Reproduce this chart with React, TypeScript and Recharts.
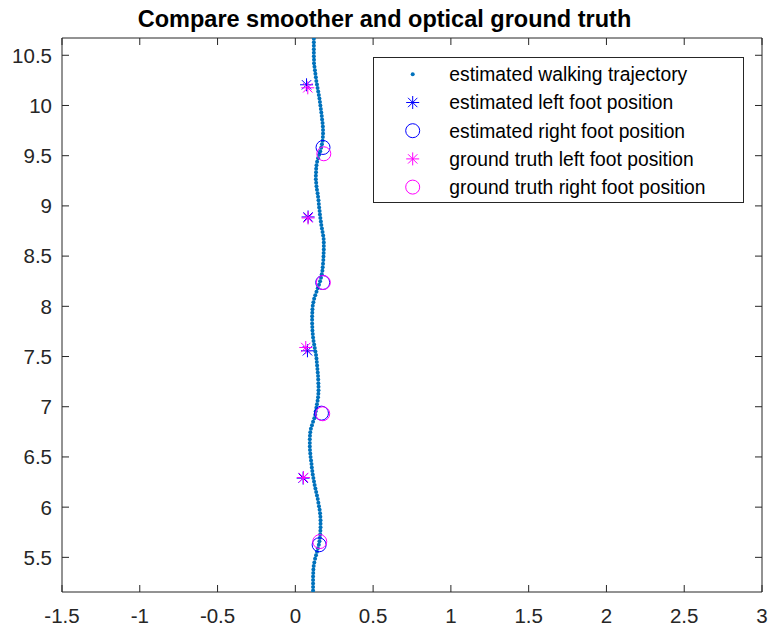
import React from 'react';
import { ScatterChart, Scatter, XAxis, YAxis, Legend } from 'recharts';

// ---- data ----
const TRAJ_Y = [10.700, 10.665, 10.630, 10.595, 10.560, 10.525, 10.490, 10.455, 10.420, 10.385, 10.350, 10.315, 10.280, 10.245, 10.210, 10.175, 10.140, 10.105, 10.070, 10.035, 10.000, 9.965, 9.930, 9.895, 9.860, 9.825, 9.790, 9.755, 9.720, 9.685, 9.650, 9.615, 9.580, 9.545, 9.510, 9.475, 9.440, 9.405, 9.370, 9.335, 9.300, 9.265, 9.230, 9.195, 9.160, 9.125, 9.090, 9.055, 9.020, 8.985, 8.950, 8.915, 8.880, 8.845, 8.810, 8.775, 8.740, 8.705, 8.670, 8.635, 8.600, 8.565, 8.530, 8.495, 8.460, 8.425, 8.390, 8.355, 8.320, 8.285, 8.250, 8.215, 8.180, 8.145, 8.110, 8.075, 8.040, 8.005, 7.970, 7.935, 7.900, 7.865, 7.830, 7.795, 7.760, 7.725, 7.690, 7.655, 7.620, 7.585, 7.550, 7.515, 7.480, 7.445, 7.410, 7.375, 7.340, 7.305, 7.270, 7.235, 7.200, 7.165, 7.130, 7.095, 7.060, 7.025, 6.990, 6.955, 6.920, 6.885, 6.850, 6.815, 6.780, 6.745, 6.710, 6.675, 6.640, 6.605, 6.570, 6.535, 6.500, 6.465, 6.430, 6.395, 6.360, 6.325, 6.290, 6.255, 6.220, 6.185, 6.150, 6.115, 6.080, 6.045, 6.010, 5.975, 5.940, 5.905, 5.870, 5.835, 5.800, 5.765, 5.730, 5.695, 5.660, 5.625, 5.590, 5.555, 5.520, 5.485, 5.450, 5.415, 5.380, 5.345, 5.310, 5.275, 5.240, 5.205, 5.170, 5.135];

const TRAJ_X = [0.119, 0.119, 0.119, 0.119, 0.119, 0.119, 0.119, 0.120, 0.120, 0.123, 0.126, 0.129, 0.132, 0.135, 0.139, 0.143, 0.147, 0.151, 0.155, 0.158, 0.161, 0.164, 0.167, 0.170, 0.172, 0.175, 0.177, 0.178, 0.178, 0.177, 0.175, 0.171, 0.166, 0.160, 0.153, 0.146, 0.140, 0.136, 0.134, 0.133, 0.132, 0.132, 0.134, 0.136, 0.139, 0.143, 0.146, 0.149, 0.151, 0.153, 0.156, 0.158, 0.161, 0.164, 0.167, 0.171, 0.175, 0.179, 0.182, 0.183, 0.183, 0.183, 0.182, 0.181, 0.180, 0.178, 0.176, 0.174, 0.170, 0.165, 0.159, 0.152, 0.144, 0.136, 0.128, 0.121, 0.116, 0.112, 0.110, 0.109, 0.108, 0.108, 0.108, 0.109, 0.110, 0.112, 0.114, 0.117, 0.121, 0.125, 0.129, 0.133, 0.136, 0.138, 0.140, 0.142, 0.144, 0.146, 0.147, 0.148, 0.149, 0.149, 0.148, 0.146, 0.143, 0.139, 0.135, 0.131, 0.128, 0.122, 0.114, 0.107, 0.100, 0.096, 0.094, 0.093, 0.093, 0.093, 0.094, 0.096, 0.098, 0.101, 0.104, 0.106, 0.109, 0.112, 0.116, 0.120, 0.124, 0.129, 0.134, 0.139, 0.144, 0.148, 0.152, 0.156, 0.159, 0.161, 0.162, 0.162, 0.162, 0.161, 0.160, 0.158, 0.155, 0.151, 0.145, 0.139, 0.133, 0.127, 0.122, 0.118, 0.116, 0.115, 0.114, 0.114, 0.114, 0.114, 0.114, 0.114];

const EST_LEFT_X = [0.072, 0.082, 0.078, 0.050];
const EST_LEFT_Y = [10.206, 8.890, 7.557, 6.289];
const EST_RIGHT_X = [0.178, 0.176, 0.168, 0.153];
const EST_RIGHT_Y = [9.582, 8.237, 6.936, 5.625];
const GT_LEFT_X = [0.080, 0.082, 0.067, 0.052];
const GT_LEFT_Y = [10.176, 8.880, 7.590, 6.295];
const GT_RIGHT_X = [0.183, 0.180, 0.176, 0.157];
const GT_RIGHT_Y = [9.519, 8.237, 6.930, 5.657];

const X_TICKS = [-1.5, -1, -0.5, 0, 0.5, 1, 1.5, 2, 2.5, 3];
const Y_TICKS = [5.5, 6, 6.5, 7, 7.5, 8, 8.5, 9, 9.5, 10, 10.5];
const X_DOMAIN = [-1.5, 3];
const Y_DOMAIN = [5.155, 10.672];

const TITLE = 'Compare smoother and optical ground truth';
const LEGEND_LABELS = [
  'estimated walking trajectory',
  'estimated left foot position',
  'estimated right foot position',
  'ground truth left foot position',
  'ground truth right foot position',
];

// ---- styles ----
const FONT = '"Liberation Sans", Arial, Helvetica, sans-serif';
const AXIS = '#262626';
const TRAJ_COLOR = '#0072BD';
const BLUE = '#0000FF';
const MAGENTA = '#FF00FF';

const zip = (xs: number[], ys: number[]) => xs.map((x, i) => ({ x, y: ys[i] }));
const trajData = zip(TRAJ_X, TRAJ_Y);
const estLeft = zip(EST_LEFT_X, EST_LEFT_Y);
const estRight = zip(EST_RIGHT_X, EST_RIGHT_Y);
const gtLeft = zip(GT_LEFT_X, GT_LEFT_Y);
const gtRight = zip(GT_RIGHT_X, GT_RIGHT_Y);

const Star = ({ cx, cy, r, color }: any) => {
  const d = r * 0.72;
  return (
    <g stroke={color} strokeWidth={1} fill="none">
      <line x1={cx - r} y1={cy} x2={cx + r} y2={cy} />
      <line x1={cx} y1={cy - r} x2={cx} y2={cy + r} />
      <line x1={cx - d} y1={cy - d} x2={cx + d} y2={cy + d} />
      <line x1={cx - d} y1={cy + d} x2={cx + d} y2={cy - d} />
    </g>
  );
};

const Ring = ({ cx, cy, r, color }: any) => (
  <circle cx={cx} cy={cy} r={r} fill="none" stroke={color} strokeWidth={1} />
);

const trajShape = (p: any) => <circle cx={p.cx} cy={p.cy} r={2} fill={TRAJ_COLOR} />;
const starShape = (color: string) => (p: any) => <Star cx={p.cx} cy={p.cy} r={6.5} color={color} />;
const ringShape = (color: string) => (p: any) => <Ring cx={p.cx} cy={p.cy} r={7} color={color} />;
const hiddenShape = () => <g />;

const BottomTick = (p: any) => (
  <g>
    <line x1={p.x} y1={p.y} x2={p.x} y2={p.y - 7} stroke={AXIS} strokeWidth={1} />
    <text x={p.x} y={p.y + 31} textAnchor="middle" fontSize={20.5} fontFamily={FONT} fill={AXIS}>
      {String(p.payload.value)}
    </text>
  </g>
);
const LeftTick = (p: any) => (
  <g>
    <line x1={p.x} y1={p.y} x2={p.x + 7} y2={p.y} stroke={AXIS} strokeWidth={1} />
    <text x={p.x - 10} y={p.y} dy="0.36em" textAnchor="end" fontSize={20.5} fontFamily={FONT} fill={AXIS}>
      {String(p.payload.value)}
    </text>
  </g>
);
const TopTick = (p: any) => (
  <line x1={p.x} y1={p.y} x2={p.x} y2={p.y + 7} stroke={AXIS} strokeWidth={1} />
);
const RightTick = (p: any) => (
  <line x1={p.x} y1={p.y} x2={p.x - 7} y2={p.y} stroke={AXIS} strokeWidth={1} />
);

const LegendBox = () => {
  const w = 371;
  const h = 146;
  const mx = 39.7;
  const tx = 76.3;
  const rows = [17.3, 45.5, 73.7, 101.9, 130.1];
  const icons = [
    (cy: number) => <circle cx={mx} cy={cy} r={2} fill={TRAJ_COLOR} />,
    (cy: number) => <Star cx={mx} cy={cy} r={6.5} color={BLUE} />,
    (cy: number) => <Ring cx={mx} cy={cy} r={7} color={BLUE} />,
    (cy: number) => <Star cx={mx} cy={cy} r={6.5} color={MAGENTA} />,
    (cy: number) => <Ring cx={mx} cy={cy} r={7} color={MAGENTA} />,
  ];
  return (
    <svg width={w} height={h} style={{ display: 'block' }}>
      <rect x={0.5} y={0.5} width={w - 1} height={h - 1} fill="#fff" stroke={AXIS} strokeWidth={1} />
      {LEGEND_LABELS.map((label, i) => (
        <g key={label}>
          {icons[i](rows[i])}
          <text x={tx} y={rows[i]} dy="0.36em" fontSize={19.3} fontFamily={FONT} fill="#000">
            {label}
          </text>
        </g>
      ))}
    </svg>
  );
};

export default function App() {
  return (
    <div style={{ position: 'absolute', left: 0, top: 0, width: 768, height: 631, overflow: 'hidden' }}>
      <div
        style={{
          position: 'absolute',
          left: 0,
          top: 7,
          width: 769,
          textAlign: 'center',
          fontFamily: FONT,
          fontWeight: 'bold',
          fontSize: 23.5,
          lineHeight: '24px',
          color: '#000',
          whiteSpace: 'nowrap',
          zIndex: 2,
        }}
      >
        {TITLE}
      </div>
      <ScatterChart width={768} height={631} margin={{ top: 37, right: 5, bottom: 0, left: 8 }}>
        <XAxis
          xAxisId={0}
          type="number"
          dataKey="x"
          orientation="bottom"
          domain={X_DOMAIN}
          ticks={X_TICKS}
          allowDataOverflow
          interval={0}
          height={39}
          tickSize={0}
          tickMargin={0}
          tickLine={false}
          tick={BottomTick}
          axisLine={{ stroke: AXIS, strokeWidth: 1 }}
        />
        <XAxis
          xAxisId="top"
          type="number"
          dataKey="x"
          orientation="top"
          domain={X_DOMAIN}
          ticks={X_TICKS}
          allowDataOverflow
          interval={0}
          height={1}
          tickSize={0}
          tickMargin={0}
          tickLine={false}
          tick={TopTick}
          axisLine={{ stroke: AXIS, strokeWidth: 1 }}
        />
        <YAxis
          yAxisId={0}
          type="number"
          dataKey="y"
          orientation="left"
          domain={Y_DOMAIN}
          ticks={Y_TICKS}
          allowDataOverflow
          interval={0}
          width={54}
          tickSize={0}
          tickMargin={0}
          tickLine={false}
          tick={LeftTick}
          axisLine={{ stroke: AXIS, strokeWidth: 1 }}
        />
        <YAxis
          yAxisId="right"
          type="number"
          dataKey="y"
          orientation="right"
          domain={Y_DOMAIN}
          ticks={Y_TICKS}
          allowDataOverflow
          interval={0}
          width={1}
          tickSize={0}
          tickMargin={0}
          tickLine={false}
          tick={RightTick}
          axisLine={{ stroke: AXIS, strokeWidth: 1 }}
        />
        <Legend
          layout="vertical"
          align="center"
          verticalAlign="middle"
          content={() => <LegendBox />}
          wrapperStyle={{ position: 'absolute', left: 373, top: 57, width: 371, height: 146 }}
        />
        <Scatter
          name="frame"
          data={trajData}
          xAxisId="top"
          yAxisId="right"
          shape={hiddenShape}
          legendType="none"
          isAnimationActive={false}
        />
        <Scatter name="estimated walking trajectory" data={trajData} shape={trajShape} isAnimationActive={false} />
        <Scatter name="estimated left foot position" data={estLeft} shape={starShape(BLUE)} isAnimationActive={false} />
        <Scatter name="estimated right foot position" data={estRight} shape={ringShape(BLUE)} isAnimationActive={false} />
        <Scatter name="ground truth left foot position" data={gtLeft} shape={starShape(MAGENTA)} isAnimationActive={false} />
        <Scatter name="ground truth right foot position" data={gtRight} shape={ringShape(MAGENTA)} isAnimationActive={false} />
      </ScatterChart>
    </div>
  );
}
